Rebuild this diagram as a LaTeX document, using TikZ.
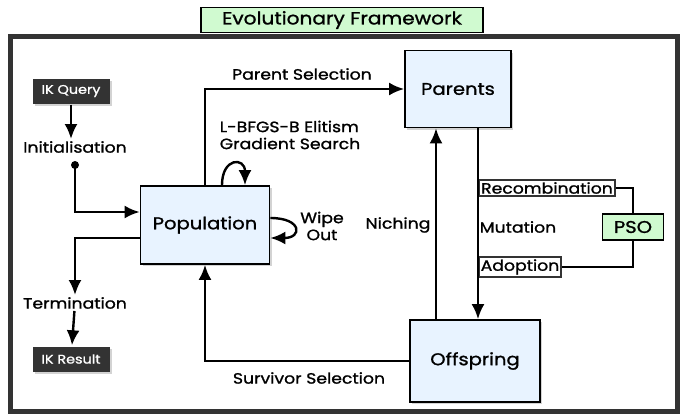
\documentclass[tikz,border=0pt]{standalone}
\usepackage{fontspec}
\setmainfont{Poppins}[FakeStretch=1.15,FakeBold=1.2]
\usepackage{tikz}
\usetikzlibrary{arrows.meta}
\usetikzlibrary{shadows}
\usetikzlibrary{positioning}

\definecolor{popblue}{RGB}{232,243,255}
\definecolor{psogreen}{RGB}{208,250,208}
\definecolor{framegray}{RGB}{51,51,51}

\begin{document}
\begin{tikzpicture}[x=1pt,y=-1pt,
  line width=2.4pt,
  >={Latex[length=15pt,width=13pt]},
  stage/.style={draw,line width=1.8pt,fill=popblue,font=\fontsize{17}{19}\selectfont,
    drop shadow={opacity=0.35,shadow xshift=2pt,shadow yshift=-2pt}},
  ikbox/.style={fill=framegray,text=white,font=\fontsize{12.5}{14}\selectfont,
    minimum width=77pt,minimum height=25pt,
    drop shadow={opacity=0.35,shadow xshift=2pt,shadow yshift=-2pt}},
  opbox/.style={draw=framegray,line width=2pt,fill=white,inner sep=2pt,
    font=\fontsize{15}{17}\selectfont},
  lbl/.style={font=\fontsize{15}{17}\selectfont,inner sep=1pt}]
\useasboundingbox (0,0) rectangle (689,416);

% outer frame and heading
\draw [framegray,line width=5pt] (10,36) rectangle (677,411);
\node [draw,line width=1.5pt,fill=psogreen,minimum width=282pt,minimum height=25pt,
  font=\fontsize{17.5}{19}\selectfont] (title) at (342,20) {Evolutionary Framework};

% stages
\node [stage,minimum width=129pt,minimum height=78pt] (pop) at (205,225) {Population};
\node [stage,minimum width=106pt,minimum height=77pt] (par) at (458,89) {Parents};
\node [stage,minimum width=130pt,minimum height=82pt] (off) at (475,361) {Offspring};

% query / result
\node [ikbox] (ikq) at (71,91) {IK Query};
\node [ikbox] (ikr) at (71,359) {IK Result};
\node [lbl] (init) at (75,147) {Initialisation};
\node [lbl] (term) at (75,303) {Termination};
\coordinate (dot) at (75,165);

% operators
\node [opbox] (rec) at (547,188) {Recombination};
\node [lbl] (mut) at (518,227) {Mutation};
\node [opbox] (ado) at (520,267) {Adoption};
\node [draw,line width=1.5pt,fill=psogreen,minimum width=61pt,minimum height=26pt,
  font=\fontsize{17}{19}\selectfont] (pso) at (633,227) {PSO};

% labels
\node [lbl] (psel) at (302,74) {Parent Selection};
\node [lbl,align=left] (grad) at (290,135) {L-BFGS-B Elitism\\Gradient Search};
\node [lbl,align=center] (wipe) at (322,226) {Wipe\\Out};
\node [lbl] (nich) at (398,225) {Niching};
\node [lbl] (ssel) at (309,378) {Survivor Selection};

% connectors
\draw [->] (ikq) -- (ikq |- init.north);
\fill (dot) circle (4);
\draw [->] (dot) |- ([yshift=13pt]pop.west);
\draw [->] ([yshift=-13pt]pop.west) -| (term.north);
\draw [->] (term) -- (ikr);
\draw [->] (pop.north) |- (par.west);
\draw [->] (off.west) -| (pop.south);
\draw [->] ([xshift=-22pt]par.south |- off.north) -- ([xshift=-22pt]par.south);
\draw [->] ([xshift=20pt]par.south) -- ([xshift=20pt]par.south |- off.north);
\draw [->] ([xshift=17pt]pop.north) .. controls +(0,-28) and +(0,-28) .. ([xshift=40pt]pop.north);
\draw [->] ([yshift=7pt]pop.east) .. controls +(32,0) and +(32,0) .. ([yshift=-13pt]pop.east);
\draw [line width=1.5pt] (rec.east) -| (pso.north);
\draw [line width=1.5pt] (pso.south) |- (ado.east);
\end{tikzpicture}
\end{document}
